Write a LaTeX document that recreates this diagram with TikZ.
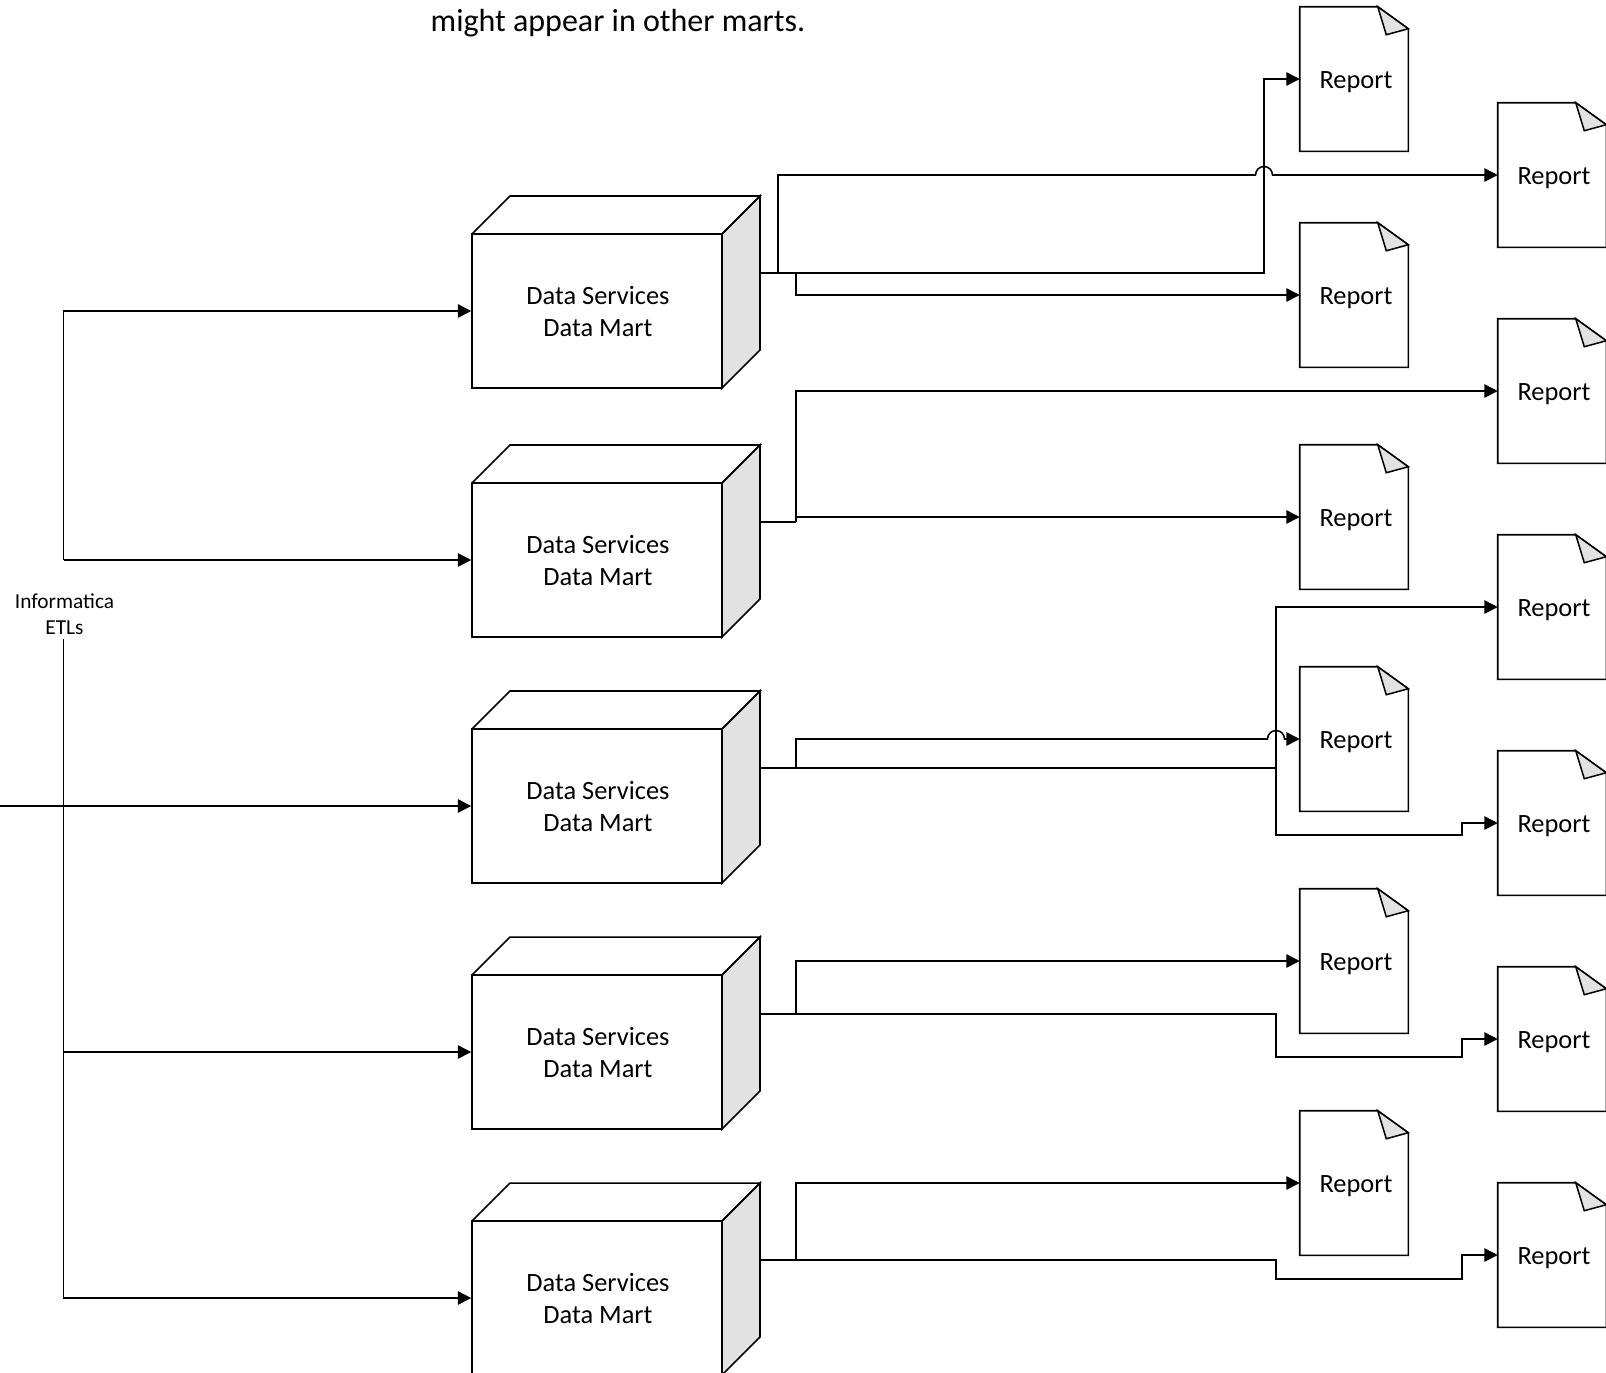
\documentclass[tikz,border=0pt]{standalone}
\usepackage{fontspec}
\setmainfont{Carlito}
\usepackage{tikz}
\usetikzlibrary{arrows.meta}
\definecolor{foldgray}{HTML}{E2E2E2}
\tikzstyle{conn} = [line width=1.15pt,-{Triangle[length=10pt,width=10pt]}]
\tikzstyle{plain} = [line width=1.15pt]
\tikzstyle{martbox} = [draw,line width=1.15pt,fill=white,minimum width=187.5pt,minimum height=115.5pt,inner sep=0pt,align=center,font=\fontsize{19.8}{24}\selectfont]
\tikzstyle{reportbox} = [minimum width=81pt,minimum height=108pt,inner sep=0pt,font=\fontsize{19.8}{24}\selectfont]
\newcommand{\mart}[2]{
    \draw [plain,fill=foldgray] (597,#2) ++(125,-77) -- ++(38,-38) -- ++(0,154) -- ++(-38,38) -- cycle;
    \draw [plain] (597,#2) ++(-125,-77) -- ++(38,-38) -- ++(250,0) -- ++(-38,38);
    \node [martbox] (#1) at (597,#2) {\rule{0pt}{15pt}\hspace*{1.5pt}Data Services\\\hspace*{1.5pt}Data Mart};
    \coordinate (#1out) at ([shift={(38,-38)}]#1.east);
}
\newcommand{\report}[3]{
    \node [reportbox] (#1) at (#2,#3) {\rule{0pt}{17.4pt}\hspace{3pt}Report};
    \coordinate (#1fold) at ([yshift=-16.5pt]#1.north east);
    \draw [plain] (#1.north west) -- ++(78,0) -- (#1fold) -- (#1.south east) -- (#1.south west) -- cycle;
    \draw [plain,fill=foldgray] (#1.north west) ++(78,0) -- (#1fold) -- ++(-22,6) -- cycle;
}
\begin{document}
\begin{tikzpicture}[line cap=butt,line join=miter,x=0.75pt,y=-0.75pt]
    \useasboundingbox (0,0) rectangle (1606,1372);
    \node [anchor=west,font=\fontsize{24}{29}\selectfont] (note) at (426,23) {might appear in other marts.};
    \node [align=center,inner sep=0pt,font=\fontsize{16}{19.5}\selectfont] (etl) at (64.5,614) {Informatica\\ETLs};
    \coordinate (etltop) at (63.5,560);
    \coordinate (etlbot) at (63.5,639);
    \coordinate (source) at (0,806);
    % marts
    \mart{mart1}{311}
    \mart{mart2}{560}
    \mart{mart3}{806}
    \mart{mart4}{1052}
    \mart{mart5}{1298}
    % reports, first column
    \report{rep1}{1354}{79}
    \report{rep2}{1354}{295}
    \report{rep3}{1354}{517}
    \report{rep4}{1354}{739}
    \report{rep5}{1354}{961}
    \report{rep6}{1354}{1183}
    % reports, second column
    \report{rep7}{1552}{175}
    \report{rep8}{1552}{391}
    \report{rep9}{1552}{607}
    \report{rep10}{1552}{823}
    \report{rep11}{1552}{1039}
    \report{rep12}{1552}{1255}
    % ETL feeds
    \draw [conn] (etltop) |- (mart1.west);
    \draw [conn] (etltop) -- (mart2.west);
    \draw [conn] (etlbot) |- (mart5.west);
    \draw [conn] (63.5,1052) -- (mart4.west);
    \draw [conn] (63.5,806) -- (mart3.west);
    \draw [line width=2.2pt] (source) -- (63.5,806);
    % mart 1
    \draw [conn] (mart1out) -| (1264,200) |- (rep1.west);
    \draw [conn] (778,272.5) |- (1255.5,175) arc (180:360:8.5) -- (rep7.west);
    \draw [conn] (796,272.5) |- (rep2.west);
    % mart 2
    \draw [plain] (mart2out) -- (796,522);
    \draw [conn] (796,522) |- (rep8.west);
    \draw [conn] (796,522) |- (rep3.west);
    % mart 3
    \draw [plain] (mart3out) -- (1276,768);
    \draw [conn] (1276,768) |- (rep9.west);
    \draw [conn] (1276,768) |- (1462,835) |- (rep10.west);
    \draw [conn] (796,768) |- (1267.5,739) arc (180:360:8.5) -- (rep4.west);
    % mart 4
    \draw [conn] (796,1014) |- (rep5.west);
    \draw [conn] (mart4out) -| (1276,1057) -| (1462,1039) -- (rep11.west);
    % mart 5
    \draw [conn] (796,1260) |- (rep6.west);
    \draw [conn] (mart5out) -| (1276,1279) -| (1462,1255) -- (rep12.west);
\end{tikzpicture}
\end{document}
